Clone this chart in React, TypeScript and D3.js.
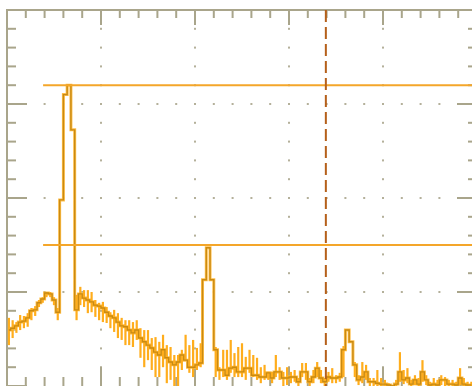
import React from 'react'
import * as d3 from 'd3'

// spectrum trace, one value per bin (dB)
const avgLevel = [
  -68.1, -67.7, -67.2, -66.4, -66.2, -65.5, -64.0, -63.8, -62.3, -61.5,
  -60.2, -60.4, -61.7, -64.3, -40.4, -18.0, -16.0, -25.5, -63.8, -60.4,
  -61.3, -61.7, -62.1, -62.8, -63.0, -63.4, -64.3, -65.1, -65.5, -66.4,
  -67.2, -67.4, -68.1, -68.7, -68.1, -69.8, -70.6, -71.3, -71.9, -72.8,
  -73.4, -72.3, -74.0, -74.9, -75.5, -74.9, -73.4, -74.5, -76.0, -76.0,
  -75.5, -75.1, -57.4, -50.6, -57.4, -72.3, -76.6, -76.6, -77.7, -76.2,
  -76.0, -77.0, -77.0, -76.2, -76.2, -77.7, -77.7, -78.1, -78.1, -77.2,
  -78.3, -77.0, -77.0, -78.3, -78.3, -78.1, -78.1, -79.1, -77.0, -77.0,
  -79.1, -78.1, -76.2, -78.3, -79.1, -78.1, -78.3, -78.3, -78.1, -72.3,
  -68.1, -70.6, -75.5, -78.7, -78.1, -77.0, -79.1, -79.1, -79.4, -79.6,
  -79.6, -79.8, -80.0, -79.6, -77.0, -78.7, -78.3, -79.6, -78.7, -79.6,
  -77.0, -78.7, -79.8, -79.6, -79.8, -78.7, -78.7, -79.6, -79.6, -79.8,
  -78.3, -79.6, -79.8, -79.8,
]

// live trace spread per bin (top / bottom of the light bars)
const peakHigh = [
  -65.5, -66.0, -66.4, -64.9, -65.1, -64.5, -63.4, -63.0, -61.7, -61.1,
  -60.0, -60.0, -61.1, -63.4, -40.4, -18.0, -16.0, -25.5, -60.6, -58.9,
  -59.6, -59.6, -60.0, -61.7, -62.3, -62.1, -63.2, -64.3, -63.8, -64.5,
  -65.5, -66.0, -66.0, -66.4, -66.0, -67.7, -68.1, -68.1, -69.8, -69.6,
  -70.6, -69.1, -71.3, -71.7, -73.4, -73.4, -72.3, -69.1, -71.3, -70.2,
  -71.9, -70.9, -57.4, -50.6, -57.4, -71.7, -76.0, -72.3, -72.3, -70.2,
  -73.0, -71.7, -70.9, -73.8, -72.3, -73.4, -74.0, -76.0, -75.5, -77.0,
  -77.0, -73.4, -76.0, -77.0, -76.0, -77.0, -76.6, -78.3, -75.1, -75.1,
  -78.3, -76.6, -74.9, -76.6, -78.3, -77.0, -76.2, -77.7, -77.2, -71.5,
  -68.1, -70.6, -74.9, -77.7, -74.9, -75.5, -78.3, -78.3, -76.6, -78.3,
  -78.7, -79.4, -79.8, -78.7, -72.8, -76.6, -76.2, -78.7, -77.7, -78.3,
  -74.5, -77.7, -79.1, -78.3, -78.7, -77.7, -78.1, -78.7, -78.7, -79.1,
  -76.2, -78.3, -79.1, -79.1,
]

const peakLow = [
  -71.3, -69.8, -68.7, -68.1, -67.7, -67.4, -66.0, -65.1, -63.2, -62.3,
  -61.1, -61.1, -62.8, -66.0, -40.4, -18.0, -16.0, -25.5, -66.0, -62.8,
  -63.2, -64.5, -64.3, -65.3, -66.0, -66.4, -66.6, -67.7, -68.5, -69.8,
  -70.2, -71.3, -71.3, -71.7, -70.2, -74.0, -76.0, -74.5, -76.6, -78.1,
  -78.1, -76.0, -79.4, -78.7, -80.0, -80.0, -76.6, -74.5, -77.2, -78.1,
  -76.6, -76.0, -57.4, -50.6, -57.4, -78.1, -78.7, -78.1, -78.7, -77.2,
  -78.1, -78.1, -78.1, -78.7, -77.2, -78.1, -78.7, -79.4, -78.7, -78.7,
  -79.4, -78.1, -78.7, -80.0, -79.8, -79.4, -79.1, -80.0, -78.1, -78.7,
  -80.0, -79.4, -78.1, -79.4, -80.0, -79.1, -79.4, -79.4, -79.1, -78.1,
  -68.1, -70.6, -78.1, -79.8, -79.4, -78.7, -80.0, -80.0, -80.0, -80.0,
  -80.0, -80.4, -80.4, -80.0, -79.1, -79.6, -79.4, -80.0, -79.8, -80.0,
  -79.1, -79.8, -80.2, -80.0, -80.0, -79.8, -80.0, -80.0, -80.0, -80.2,
  -79.8, -80.0, -80.2, -80.2,
]

const cursorLevels = [-16, -50]
const cursorStartBin = 9.6
const markerBin = 84.8

const W = 472
const H = 386
const frameColor = '#a9a58b'
const dotColor = '#b4b09a'

const x = d3.scaleLinear().domain([0, 125]).range([7, 477])
const y = d3.scaleLinear().domain([-80, 0]).range([386, 10])
// graticule divisions
const xDiv = d3.scaleLinear().domain([0, 5]).range([7, 477])
const yDiv = d3.scaleLinear().domain([0, 4]).range([10, 386])

function Graticule() {
  const colSteps = d3.range(0, 26)
  const rowSteps = d3.range(0, 21)
  const els: React.ReactNode[] = []

  colSteps.forEach(i => {
    const px = xDiv(i / 5)
    const major = i % 5 === 0
    els.push(<line key={'t' + i} x1={px} x2={px} y1={10} y2={10 + (major ? 15 : 8)} />)
    els.push(<line key={'b' + i} x1={px} x2={px} y1={386} y2={386 - (major ? 19 : 9)} />)
  })
  rowSteps.forEach(j => {
    const py = yDiv(j / 5)
    const major = j % 5 === 0
    els.push(<line key={'l' + j} x1={7} x2={7 + (major ? 20 : 9)} y1={py} y2={py} />)
    els.push(<line key={'r' + j} x1={477} x2={477 - (major ? 20 : 9)} y1={py} y2={py} />)
  })

  const dots: React.ReactNode[] = []
  d3.range(1, 5).forEach(k => {
    rowSteps.forEach(j => {
      if (j % 5 === 0 && j !== 0) return
      dots.push(<rect key={`v${k}-${j}`} x={xDiv(k) - 1} y={yDiv(j / 5) - 1} width={2} height={2} />)
    })
  })
  d3.range(1, 4).forEach(k => {
    colSteps.forEach(i => {
      dots.push(<rect key={`h${k}-${i}`} x={xDiv(i / 5) - 1} y={yDiv(k) - 1} width={2} height={2} />)
    })
  })

  return (
    <g>
      <g fill={dotColor}>{dots}</g>
      <g stroke={frameColor} strokeWidth={2}>
        {els}
        <line x1={6} x2={477} y1={10} y2={10} />
        <line x1={7} x2={7} y1={9} y2={386} />
      </g>
    </g>
  )
}

export default function App() {
  const line = d3
    .line<number>()
    .x((d, i) => x(i + 0.5))
    .y(d => y(d))
    .curve(d3.curveStep)
  const path = line(avgLevel) || ''

  return (
    <svg width={W} height={H} style={{ position: 'absolute', left: 0, top: 0, background: '#fff' }}>
      <Graticule />
      <path d={path} fill="none" stroke="#ffbf4a" strokeWidth={3} />
      <g stroke="#ffad1c" strokeWidth={2.2}>
        {avgLevel.map((d, i) =>
          peakHigh[i] === peakLow[i] ? null : (
            <line key={i} x1={x(i + 0.5)} x2={x(i + 0.5)} y1={y(peakHigh[i])} y2={y(peakLow[i])} />
          )
        )}
      </g>
      <path d={path} fill="none" stroke="#c98a12" strokeWidth={1.4} />
      <g stroke="#f4a62a" strokeWidth={2}>
        {cursorLevels.map(c => (
          <line key={c} x1={x(cursorStartBin)} x2={W} y1={y(c)} y2={y(c)} />
        ))}
      </g>
      <line
        x1={x(markerBin)}
        x2={x(markerBin)}
        y1={10}
        y2={H}
        stroke="#b5601a"
        strokeWidth={2}
        strokeDasharray="12 5"
      />
    </svg>
  )
}
